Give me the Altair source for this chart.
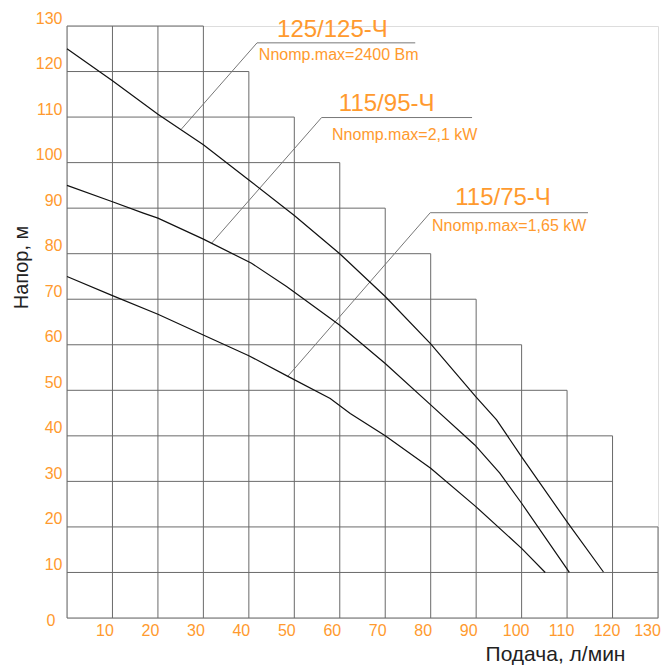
import altair as alt
import pandas as pd

# ---- data ----
levels = list(range(0, 140, 10))
h_extent = [130, 130, 130, 120, 120, 110, 100, 90, 80, 70, 60, 50, 40, 30]   # right end of horizontal line at y=level
v_extent = [130, 130, 130, 130, 120, 110, 100, 90, 80, 70, 60, 50, 40, 20]   # top end of vertical line at x=level

c1_x = [0, 10, 20, 30, 40, 50, 60, 70, 80, 90, 94.5, 100, 110, 118]
c1_y = [125, 118, 110.6, 103.9, 96.2, 88.4, 80, 70.6, 60.2, 48.5, 43.5, 35.4, 21.1, 10.1]
c2_x = [0, 10, 16.8, 20, 30, 40.6, 48.3, 60, 70, 80, 89.7, 95.2, 100, 110.5]
c2_y = [95, 91.4, 88.9, 87.8, 83.2, 77.9, 72.8, 64.3, 55.9, 46.8, 38, 31.8, 25.2, 10]
c3_x = [0, 10, 20, 30.7, 40, 48.7, 57.9, 62.3, 70, 80, 90, 100, 105.2]
c3_y = [75, 70.8, 66.7, 61.8, 57.6, 53, 48.2, 44.9, 40, 32.9, 24.4, 15.3, 10]

models = ["125/125-Ч", "115/95-Ч", "115/75-Ч"]
powers = ["Nnomp.max=2400  Bm", "Nnomp.max=2,1  kW", "Nnomp.max=1,65  kW"]
model_x = [46.2, 59.8, 85.4]
model_y = [127.6, 111.3, 90.7]
power_x = [42.2, 58.3, 80.3]
power_y = [122.5, 105.0, 85.0]

leader_x = [[25.2, 41.8, 76.6], [31.8, 56.0, 89.1], [48.5, 79.9, 114.6]]
leader_y = [[107.4, 126.3, 126.3], [82.3, 109.9, 109.9], [53.0, 89.0, 89.0]]

ORANGE = "#ff9a2e"
GRID = "#6a6a6a"

# ---- tables ----
hgrid = pd.DataFrame({"y": levels, "x0": [0] * len(levels), "x1": h_extent})
vgrid = pd.DataFrame({"x": levels, "y0": [0] * len(levels), "y1": v_extent})

rows = []
for name, xs_, ys_ in [("c1", c1_x, c1_y), ("c2", c2_x, c2_y), ("c3", c3_x, c3_y)]:
    for i, (a, b) in enumerate(zip(xs_, ys_)):
        rows.append({"s": name, "i": i, "x": a, "y": b})
curves = pd.DataFrame(rows)

rows = []
for k, (xs_, ys_) in enumerate(zip(leader_x, leader_y)):
    for i, (a, b) in enumerate(zip(xs_, ys_)):
        rows.append({"s": k, "i": i, "x": a, "y": b})
leaders = pd.DataFrame(rows)

mtext = pd.DataFrame({"t": models, "x": model_x, "y": model_y})
ptext = pd.DataFrame({"t": powers, "x": power_x, "y": power_y})

xs = alt.Scale(domain=[0, 130], nice=False, zero=True)
ys = alt.Scale(domain=[0, 130], nice=False, zero=True)

x_axis = alt.Axis(
    values=levels, grid=False, ticks=False, domain=False, labelFlush=False,
    labelOverlap=False,
    labelExpr="datum.value == 0 ? '' : datum.label",
    labelFont="Liberation Sans", labelFontSize=16, labelColor=ORANGE,
    labelPadding=4,
    labelOffset={"condition": [{"test": "datum.value === 130", "value": -11},
                               {"test": "datum.value >= 100", "value": -6}],
                 "value": -8},
    title="Подача, л/мин", titleFont="Liberation Sans", titleFontSize=21,
    titleFontWeight="normal", titleColor="#222222",
    titleX=488, titleY=42, titleAlign="center", titleBaseline="alphabetic",
)
y_axis = alt.Axis(
    values=levels, grid=False, ticks=False, domain=False,
    labelFont="Liberation Sans", labelFontSize=16, labelColor=ORANGE,
    labelPadding={"condition": {"test": "datum.value === 0", "value": 12}, "value": 5},
    labelOffset={"condition": {"test": "datum.value === 0", "value": 2}, "value": -8},
    title="Напор, м", titleFont="Liberation Sans", titleFontSize=20,
    titleFontWeight="normal", titleColor="#222222",
    titleX=-40, titleY=241, titleAngle=270, titleAlign="center", titleBaseline="alphabetic",
)

h = alt.Chart(hgrid).mark_rule(color=GRID, strokeWidth=1).encode(
    x=alt.X("x0:Q", scale=xs, axis=x_axis),
    x2="x1:Q",
    y=alt.Y("y:Q", scale=ys, axis=y_axis),
)
v = alt.Chart(vgrid).mark_rule(color=GRID, strokeWidth=1).encode(
    x=alt.X("x:Q", scale=xs),
    y=alt.Y("y0:Q", scale=ys),
    y2="y1:Q",
)
lead = alt.Chart(leaders).mark_line(color="#777777", strokeWidth=1).encode(
    x=alt.X("x:Q", scale=xs), y=alt.Y("y:Q", scale=ys), detail="s:N", order="i:Q"
)
cur = alt.Chart(curves).mark_line(color="#111111", strokeWidth=1.2).encode(
    x=alt.X("x:Q", scale=xs), y=alt.Y("y:Q", scale=ys), detail="s:N", order="i:Q"
)
mt = alt.Chart(mtext).mark_text(
    align="left", baseline="alphabetic", font="Liberation Sans", fontSize=24, color=ORANGE
).encode(x=alt.X("x:Q", scale=xs), y=alt.Y("y:Q", scale=ys), text="t:N")
pt = alt.Chart(ptext).mark_text(
    align="left", baseline="alphabetic", font="Liberation Sans", fontSize=16, color=ORANGE
).encode(x=alt.X("x:Q", scale=xs), y=alt.Y("y:Q", scale=ys), text="t:N")

chart = alt.layer(h, v, lead, cur, mt, pt).properties(
    width=591, height=592,
    autosize=alt.AutoSizeParams(type="none"),
    padding={"left": 59, "top": 18, "right": 4, "bottom": 48},
).configure_view(stroke=None).configure(background="white")

chart.save("out.html", embed_options={"renderer": "svg", "actions": False})
